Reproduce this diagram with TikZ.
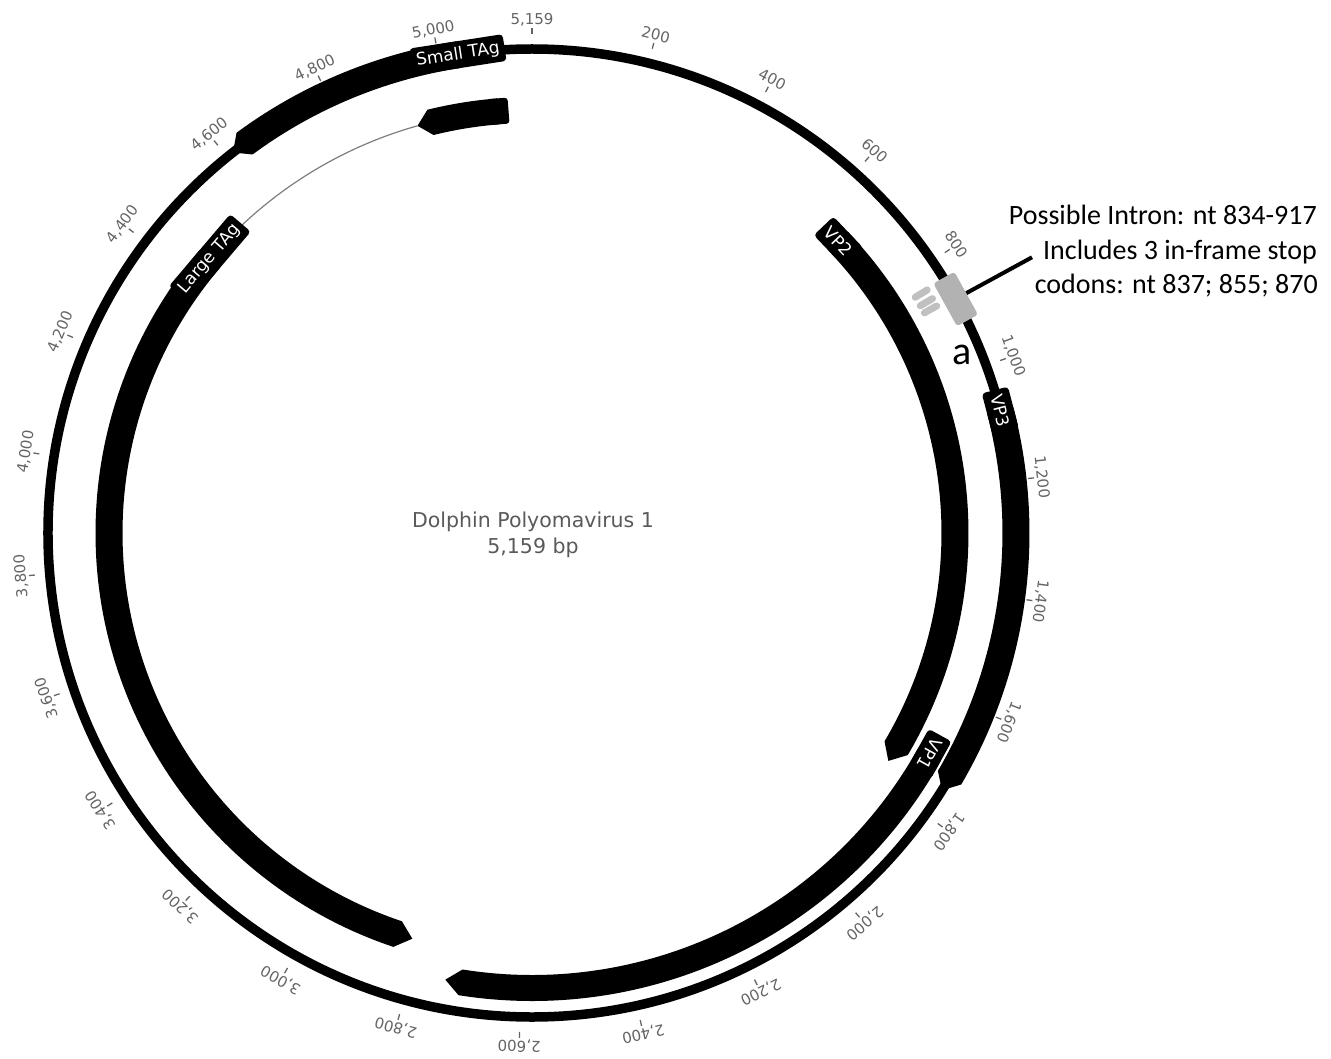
\documentclass[tikz,border=0pt]{standalone}
\usepackage{fontspec}
\setmainfont{DejaVu Sans}
\newfontfamily\calibrifont{Carlito}
\definecolor{ticklbl}{RGB}{100,100,100}
\definecolor{titlegray}{RGB}{90,90,90}
\definecolor{intronfill}{RGB}{178,178,178}
\definecolor{stopfill}{RGB}{192,192,192}
\definecolor{splicegray}{RGB}{125,125,125}
% #1 radius, #2 half width, #3 start position, #4 body end, #5 tip position
\newcommand\featband[5]{%
  \fill[feat] ({pa(#3)}:{#1+#2}) arc[start angle={pa(#3)}, end angle={pa(#4)}, radius={#1+#2}]
    -- ({pa(#5)}:{#1}) -- ({pa(#4)}:{#1-#2})
    arc[start angle={pa(#4)}, end angle={pa(#3)}, radius={#1-#2}] -- cycle;}
\begin{document}
\begin{tikzpicture}[x=1pt,y=1pt,
  declare function={pa(\q)=90-\q/5159*360;},
  backbone/.style={draw=black, line width=9.5pt},
  feat/.style={fill=black},
  tickmark/.style={draw=ticklbl, line width=1.3pt},
  ticklabel/.style={text=ticklbl, font=\fontsize{15}{15}\selectfont, inner sep=0pt, anchor=base},
  flabel/.style={fill=black, text=white, rounded corners=3.5pt, inner xsep=5pt, inner ysep=0pt,
    minimum height=27pt, font=\fontsize{17}{17}\selectfont},
  endbox/.style={fill=black, rounded corners=3pt, inner sep=0pt, minimum width=20pt, minimum height=26pt},
  splice/.style={draw=splicegray, line width=1.2pt},
  intronbox/.style={fill=intronfill, rounded corners=3pt, inner sep=0pt, minimum width=48.9pt, minimum height=24pt},
  stopbox/.style={fill=stopfill, rounded corners=3.4pt, inner sep=0pt, minimum width=7pt, minimum height=21pt},
  notetext/.style={font=\calibrifont\fontsize{28}{34}\selectfont, inner sep=0pt, anchor=base east},
  ]
\useasboundingbox (-532,-525) rectangle (799,533);

% backbone
\draw[backbone] (0,0) circle[radius=484];

% ticks and labels
\foreach \p/\t in {0/{5,159},200/200,400/400,600/600,800/800,1000/{1,000},1200/{1,200},1400/{1,400},
  1600/{1,600},1800/{1,800},2000/{2,000},2200/{2,200},2400/{2,400},2600/{2,600},2800/{2,800},
  3000/{3,000},3200/{3,200},3400/{3,400},3600/{3,600},3800/{3,800},4000/{4,000},4200/{4,200},
  4400/{4,400},4600/{4,600},4800/{4,800},5000/{5,000}} {
  \draw[tickmark] ({pa(\p)}:499) -- ({pa(\p)}:505);
  \node[ticklabel, rotate={pa(\p)-90}] (tl\p) at ({pa(\p)}:508) {\t};
}

% Small TAg (outer track)
\featband{484}{13.5}{5033}{4637}{4612}
\node[flabel, rotate={pa(5033)-90}] (smallT) at ({pa(5033)}:484) {Small TAg};

% Large TAg exon 1 + splice line + exon 2
\featband{423}{13}{5094}{4960}{4934}
\node[endbox, rotate={pa(5094)-90}] (exonend) at ({pa(5094)}:423) {};
\coordinate (spliceA) at ({pa(4934)}:423);
\draw[splice] (spliceA) arc[start angle={pa(4934)}, end angle={pa(4533)}, radius=423];
\featband{423}{13.5}{4448}{2845}{2815}
\node[flabel, rotate={pa(4448)-90}] (largeT) at ({pa(4448)}:423) {Large TAg};

% VP2 (inner track)
\featband{423}{13.5}{665}{1728}{1757}
\node[flabel, rotate={pa(665)-90}] (vp2) at ({pa(665)}:423) {VP2};

% VP3 (outer track)
\featband{484}{13.5}{1080}{1725}{1750}
\node[flabel, rotate={pa(1080)-90}] (vp3) at ({pa(1080)}:484) {VP3};

% VP1 (middle track)
\featband{455}{13}{1706}{2709}{2737}
\node[flabel, minimum height=26pt, rotate={pa(1706)-90}] (vp1) at ({pa(1706)}:455) {VP1};

% possible intron and stop codons
\node[intronbox, rotate={pa(875.5)-90}] (intron) at ({pa(875.5)}:484) {};
\foreach \p in {837,855,870} {
  \node[stopbox, rotate={pa(\p)-90}] (stop\p) at ({pa(\p)}:457) {};
}
\coordinate (cend) at ({pa(876)}:571);
\draw[line width=4pt] (intron.north) -- (cend);

% annotation
\node[notetext] (note1) at (785,308) {Possible Intron: nt 834-917};
\node[notetext] (note2) at (785,273) {Includes 3 in-frame stop};
\node[notetext] (note3) at (786,240) {codons: nt 837; 855; 870};
\node[font=\calibrifont\fontsize{40}{40}\selectfont, inner sep=0pt] (alabel) at (430,178) {a};

% title
\node[text=titlegray, align=center, inner sep=0pt, font=\fontsize{20.5}{26}\selectfont] (title) at (1,-1.6)
  {Dolphin Polyomavirus 1\\5,159 bp};
\end{tikzpicture}
\end{document}
